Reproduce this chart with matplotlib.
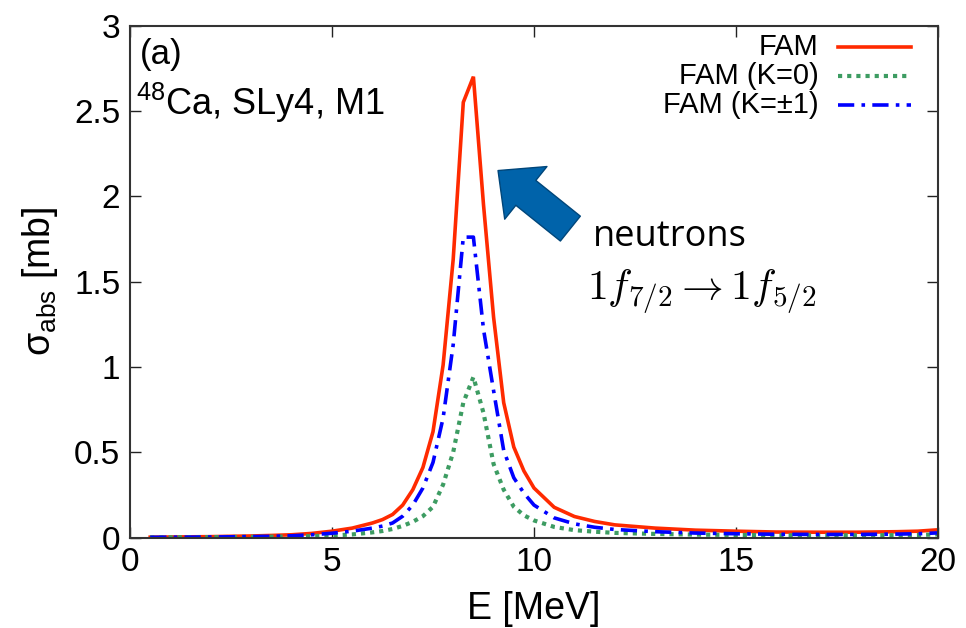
import matplotlib
matplotlib.use("Agg")
import matplotlib.pyplot as plt
from matplotlib.lines import Line2D

plt.rcParams['font.family'] = ['Liberation Sans', 'DejaVu Sans']
plt.rcParams['mathtext.fontset'] = 'custom'
plt.rcParams['mathtext.rm'] = 'Liberation Sans'
plt.rcParams['mathtext.it'] = 'Liberation Sans:italic'
plt.rcParams['mathtext.bf'] = 'Liberation Sans:bold'

# ---- data ----
E = [0.5, 1.0, 1.5, 2.0, 2.5, 3.0, 3.5, 4.0, 4.5, 5.0, 5.5, 6.0, 6.25, 6.5, 6.75,
     7.0, 7.25, 7.5, 7.75, 8.0, 8.25, 8.5, 8.75, 9.0, 9.25, 9.5, 9.75, 10.0,
     10.5, 11.0, 11.5, 12.0, 13.0, 14.0, 15.0, 16.0, 17.0, 18.0, 19.0, 19.5, 20.0]
fam_k0 = [0.001, 0.001, 0.002, 0.002, 0.003, 0.004, 0.005, 0.006, 0.008, 0.012, 0.018,
          0.030, 0.038, 0.050, 0.068, 0.092, 0.125, 0.18, 0.31, 0.50, 0.79, 0.94, 0.73,
          0.43, 0.28, 0.18, 0.13, 0.10, 0.062, 0.043, 0.034, 0.027, 0.021, 0.017, 0.015,
          0.013, 0.013, 0.013, 0.014, 0.015, 0.018]
fam_k1 = [0.001, 0.002, 0.002, 0.003, 0.004, 0.005, 0.007, 0.010, 0.016, 0.025, 0.037,
          0.055, 0.067, 0.085, 0.125, 0.19, 0.29, 0.44, 0.70, 1.13, 1.76, 1.76, 1.22,
          0.86, 0.51, 0.35, 0.26, 0.19, 0.115, 0.080, 0.060, 0.047, 0.034, 0.026, 0.022,
          0.019, 0.018, 0.018, 0.020, 0.022, 0.027]
fam = [0.002, 0.003, 0.004, 0.005, 0.007, 0.009, 0.012, 0.016, 0.024, 0.037, 0.055,
       0.085, 0.105, 0.135, 0.19, 0.28, 0.41, 0.62, 1.01, 1.63, 2.55, 2.70, 1.95,
       1.29, 0.79, 0.53, 0.39, 0.29, 0.177, 0.123, 0.094, 0.074, 0.055, 0.043, 0.037,
       0.032, 0.031, 0.031, 0.034, 0.037, 0.045]
labels = ["FAM", "FAM (K=0)", "FAM (K=\u00b11)"]

RED = '#ff2a00'
GREEN = '#3d9c62'
BLUE = '#0000ff'
DOT = (0, (1, 1.2))
DASHDOT = (0, (4.5, 2, 1, 2))

fig = plt.figure(figsize=(9.66, 6.28), dpi=100)
ax = fig.add_axes([130/966, 1-537.5/628, 808/966, 512/628])

l1, = ax.plot(E, fam, color=RED, lw=2.6, solid_joinstyle='miter')
l2, = ax.plot(E, fam_k0, color=GREEN, lw=3.0, linestyle=DOT)
l3, = ax.plot(E, fam_k1, color=BLUE, lw=2.6, linestyle=DASHDOT)

ax.set_xlim(0, 20)
ax.set_ylim(0, 3)
ax.set_xticks([0, 5, 10, 15, 20])
ax.set_yticks([0, 0.5, 1, 1.5, 2, 2.5, 3])
ax.set_yticklabels(['0', '0.5', '1', '1.5', '2', '2.5', '3'])
ax.tick_params(direction='in', length=8, width=1.0, top=True, right=True,
               labelsize=24, pad=7, colors='#222222', labelcolor='black')
for s in ax.spines.values():
    s.set_linewidth(1.5)
    s.set_color('#333333')

ax.set_xlabel('E [MeV]', fontsize=27, labelpad=9)
ax.set_ylabel(r'$\mathrm{\sigma}_{\mathrm{abs}}$ [mb]', fontsize=27, labelpad=10)

# panel labels
ax.text(0.012, 0.924, '(a)', transform=ax.transAxes, fontsize=25, va='baseline')
ax.text(0.008, 0.825, r'$^{\mathrm{48}}$Ca, SLy4, M1', transform=ax.transAxes,
        fontsize=26, va='baseline')

# legend (gnuplot style: right aligned text, sample on right)
styles = ['-', DOT, DASHDOT]
handles = [l1, l2, l3]
ys = [0.958, 0.9015, 0.845]
for h, lab, yy, st in zip(handles, labels, ys, styles):
    ax.text(0.852, yy, lab, transform=ax.transAxes, ha='right', va='center',
            fontsize=21)
    ax.add_line(Line2D([0.876, 0.967], [yy, yy], transform=ax.transAxes,
                       color=h.get_color(), lw=h.get_linewidth(), linestyle=st))

# annotation arrow
ax.annotate('', xy=(9.11, 2.15), xytext=(10.9, 1.81),
            arrowprops=dict(arrowstyle='simple,head_length=0.95,head_width=1.8,tail_width=0.85',
                            fc='#0063aa', ec='#00467a', lw=1.0, shrinkA=0, shrinkB=0,
                            mutation_scale=27))
ax.text(11.45, 1.71, 'neutrons', fontsize=26, family=['Open Sans', 'DejaVu Sans'],
        va='baseline')
ax.text(11.3, 1.40, r'$1f_{7/2} \rightarrow 1f_{5/2}$', fontsize=30,
        math_fontfamily='cm', va='baseline')

fig.savefig('out.png', dpi=100)
